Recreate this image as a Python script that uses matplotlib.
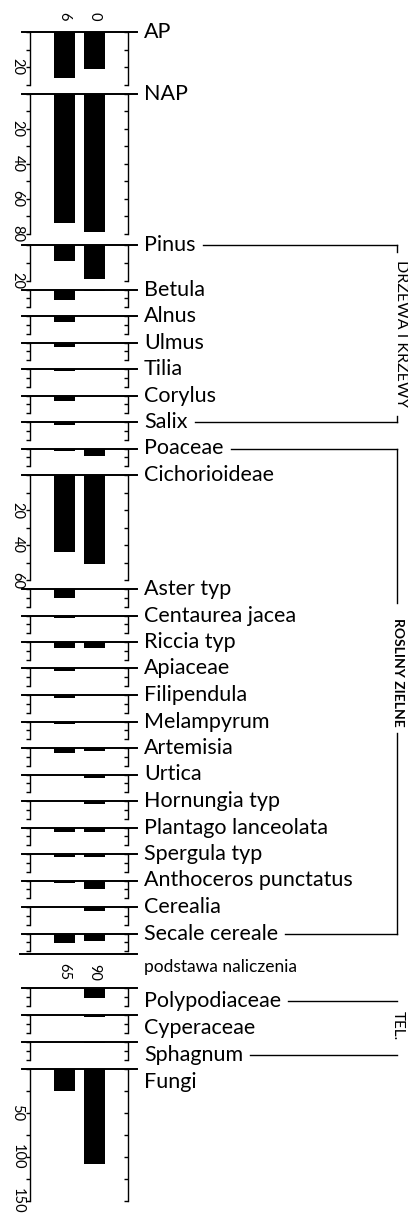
import matplotlib
matplotlib.use("Agg")
import matplotlib.pyplot as plt
from matplotlib.ticker import MultipleLocator
from matplotlib.lines import Line2D

plt.rcParams["font.family"] = ["Lato", "DejaVu Sans"]

# --------------------------
# Data
# --------------------------

taxa_top = [
    "AP", "NAP", "Pinus", "Betula", "Alnus", "Ulmus", "Tilia", "Corylus",
    "Salix", "Poaceae", "Cichorioideae", "Aster typ", "Centaurea jacea",
    "Riccia typ", "Apiaceae", "Filipendula", "Melampyrum", "Artemisia",
    "Urtica", "Hornungia typ", "Plantago lanceolata", "Spergula typ",
    "Anthoceros punctatus", "Cerealia", "Secale cereale",
]
sample1_top = [26, 74, 9, 6, 3.5, 2.3, 1, 3.4, 1.5, 1.2, 44, 5, 1.5,
               3.5, 1.5, 1.5, 1.5, 3, 0, 0, 2.5, 1.5, 1.5, 0, 5.5]
sample2_top = [21, 79, 19, 0.8, 0, 0, 0, 0, 0, 4.5, 51, 0, 0,
               3.5, 0, 0, 0, 1.5, 2, 1.5, 2.5, 1.5, 5, 2.5, 4]
axis_max_top = [30, 80, 20, 10, 10, 10, 10, 10, 10, 10, 60, 10, 10,
                10, 10, 10, 10, 10, 10, 10, 10, 10, 10, 10, 10]

taxa_bottom = ["Polypodiaceae", "Cyperaceae", "Sphagnum", "Fungi"]
sample1_bottom = [0, 0, 0, 25]
sample2_bottom = [5.5, 1, 0.6, 108]
axis_max_bottom = [10, 10, 10, 150]

sample_names = ["6", "0"]
counts = ["65", "90"]

# --------------------------
# Layout (pixels)
# --------------------------

W, H = 408, 1213
fig = plt.figure(figsize=(W / 100, H / 100), dpi=100)

X0, X1 = 22, 137          # extent of the panel top line
LEFT, RIGHT = 30, 128      # axis spines
BAR_X = [64.5, 94.5]       # bar centres
BAR_W = 21
LABEL_X = 144
BRACKET_X = 397
LABEL_SIZE = 15.5


def fy(y):
    return 1 - y / H


def panel(ytop, v1, v2, vmax, scale, labels=None, step=10):
    h = vmax * scale
    ax = fig.add_axes([X0 / W, fy(ytop + h), (X1 - X0) / W, h / H])
    ax.set_xlim(0, X1 - X0)
    ax.set_ylim(vmax, 0)
    ax.bar([BAR_X[0] - X0, BAR_X[1] - X0], [v1, v2],
           width=BAR_W, bottom=0, color="black", align="center")
    ax.spines["bottom"].set_visible(False)
    ax.spines["right"].set_visible(False)
    ax.spines["top"].set_linewidth(1.4)
    ax.spines["left"].set_linewidth(1.0)
    ax.spines["left"].set_position(("data", LEFT - X0))
    ax.set_xticks([])
    ax.tick_params(axis="y", direction="out", length=3, width=1.0,
                   labelsize=10.5, pad=1)
    ticks = list(range(0, vmax + 1, step))
    ax.set_yticks(ticks)
    if labels:
        ax.set_yticklabels([str(t) if t in labels else "" for t in ticks],
                           rotation=270, va="center")
    else:
        ax.set_yticklabels([])

    ax2 = ax.twinx()
    ax2.set_ylim(vmax, 0)
    for s in ["top", "bottom", "left"]:
        ax2.spines[s].set_visible(False)
    ax2.spines["right"].set_position(("data", RIGHT - X0))
    ax2.spines["right"].set_linewidth(1.0)
    ax2.set_yticks(ticks)
    ax2.tick_params(axis="y", direction="in", length=3, width=1.0,
                    labelright=False)
    return ax


SCALE = 1.75
GAP = 9

label_texts = {}
line_ys = {}
y = 32
for i, name in enumerate(taxa_top):
    vmax = axis_max_top[i]
    step = 10 if vmax > 10 else 5
    labels = [20, 40, 60, 80] if vmax > 10 else None
    panel(y, sample1_top[i], sample2_top[i], vmax, SCALE, labels, step)
    label_texts[name] = fig.text(LABEL_X / W, fy(y), name,
                                 fontsize=LABEL_SIZE, va="center", ha="left")
    line_ys[name] = y
    if name == "NAP":
        y += 3
    y += vmax * SCALE + GAP

# separator and counting basis
sep_y = 954
fig.add_artist(Line2D([20 / W, X1 / W], [fy(sep_y), fy(sep_y)],
                      color="black", lw=1.4))
for x, c in zip(BAR_X, counts):
    fig.text(x / W, fy(972), c, fontsize=10.5, rotation=270,
             ha="center", va="center")
fig.text(LABEL_X / W, fy(967), "podstawa naliczenia", fontsize=12.5,
         va="center", ha="left")

# sample names at top
for x, s in zip(BAR_X, sample_names):
    fig.text(x / W, fy(16), s, fontsize=10.5, rotation=270,
             ha="center", va="center")

y = 988
for i, name in enumerate(taxa_bottom):
    vmax = axis_max_bottom[i]
    if name == "Fungi":
        panel(y, sample1_bottom[i], sample2_bottom[i], vmax, 0.88,
              [50, 100, 150], 25)
    else:
        panel(y, sample1_bottom[i], sample2_bottom[i], vmax, SCALE, None, 5)
    label_texts[name] = fig.text(LABEL_X / W, fy(y + 13), name,
                                 fontsize=LABEL_SIZE, va="center", ha="left")
    line_ys[name] = y + 13
    y += vmax * (0.88 if name == "Fungi" else SCALE) + GAP + 0.5

# --------------------------
# Group brackets
# --------------------------

fig.canvas.draw()
renderer = fig.canvas.get_renderer()


def hline_after(name, tick=None):
    t = label_texts[name]
    x_start = t.get_window_extent(renderer).x1 + 7
    yy = line_ys[name]
    fig.add_artist(Line2D([x_start / W, BRACKET_X / W], [fy(yy), fy(yy)],
                          color="black", lw=1.0))
    if tick is not None:
        fig.add_artist(Line2D([BRACKET_X / W, BRACKET_X / W],
                              [fy(yy), fy(yy + tick)], color="black", lw=1.0))
    return yy


def vline(y_a, y_b):
    fig.add_artist(Line2D([BRACKET_X / W, BRACKET_X / W], [fy(y_a), fy(y_b)],
                          color="black", lw=1.0))


# trees and shrubs
ya = hline_after("Pinus", tick=6)
yb = hline_after("Salix", tick=-6)
fig.text((BRACKET_X + 4) / W, fy((ya + yb) / 2), "DRZEWA I KRZEWY",
         fontsize=11.5, rotation=270, ha="center", va="center")

# herbs
ya = hline_after("Poaceae")
yb = hline_after("Secale cereale")
vline(ya, 603)
vline(733, yb)
fig.text((BRACKET_X + 1) / W, fy(672), "ROSLINY ZIELNE", fontsize=10,
         rotation=270, ha="center", va="center", fontweight="bold")

# telmatic
ya = hline_after("Polypodiaceae")
yb = hline_after("Sphagnum")
fig.text((BRACKET_X + 1) / W, fy(1026), "TEL.", fontsize=11,
         rotation=270, ha="center", va="center")

fig.savefig("out.png", dpi=100)
